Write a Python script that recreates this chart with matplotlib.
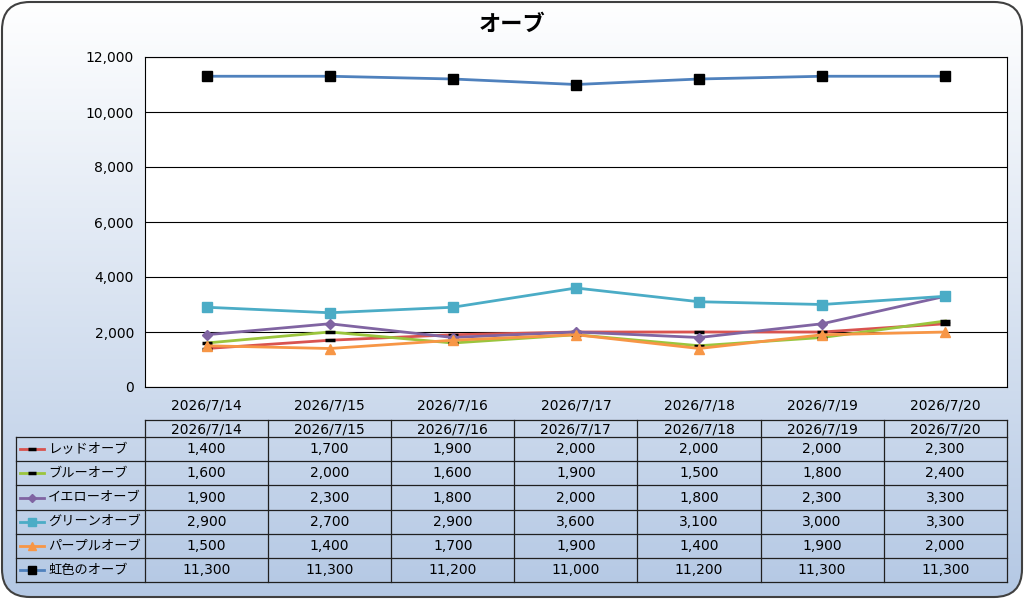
import matplotlib.pyplot as plt
import numpy as np
from matplotlib.patches import FancyBboxPatch
from matplotlib.colors import LinearSegmentedColormap

plt.rcParams['font.family'] = ['DejaVu Sans', 'Noto Sans CJK JP']

dates = ["2026/7/14", "2026/7/15", "2026/7/16", "2026/7/17", "2026/7/18", "2026/7/19", "2026/7/20"]
names = ["レッドオーブ", "ブルーオーブ", "イエローオーブ", "グリーンオーブ", "パープルオーブ", "虹色のオーブ"]
red = [1400, 1700, 1900, 2000, 2000, 2000, 2300]
blue = [1600, 2000, 1600, 1900, 1500, 1800, 2400]
yellow = [1900, 2300, 1800, 2000, 1800, 2300, 3300]
green = [2900, 2700, 2900, 3600, 3100, 3000, 3300]
purple = [1500, 1400, 1700, 1900, 1400, 1900, 2000]
rainbow = [11300, 11300, 11200, 11000, 11200, 11300, 11300]
series = [red, blue, yellow, green, purple, rainbow]
line_colors = ["#d9534f", "#9bc53d", "#8064a2", "#4bacc6", "#f79646", "#4f81bd"]
markers = ["_", "_", "D", "s", "^", "s"]
mfc = ["black", "black", "#8064a2", "#4bacc6", "#f79646", "black"]
msize = [7, 7, 5, 7, 7, 7]
jp = ['Noto Sans CJK JP', 'DejaVu Sans']

W, H = 1024, 599
fig = plt.figure(figsize=(W / 100, H / 100), dpi=100)

# background with gradient and rounded border
bg = fig.add_axes([0, 0, 1, 1])
bg.set_xlim(0, W)
bg.set_ylim(H, 0)
bg.axis('off')
grad = np.linspace(0, 1, 256).reshape(-1, 1)
cmap = LinearSegmentedColormap.from_list("g", ["#ffffff", "#b4c8e4"])
im = bg.imshow(grad, cmap=cmap, extent=[0, W, H, 0], aspect='auto', zorder=0)
box = FancyBboxPatch((2, 2), W - 4, H - 4, boxstyle="round,pad=0,rounding_size=28",
                     fc='none', ec='#404040', lw=1.5, zorder=2)
bg.add_patch(box)
im.set_clip_path(box)

bg.text(W / 2, 24, "オーブ", ha='center', va='center', fontsize=16, weight='bold', family=jp)

ax = fig.add_axes([145 / W, 1 - 387 / H, (1007 - 145) / W, (387 - 57) / H])
x = np.arange(len(dates))
for s, c, m, f, ms in zip(series, line_colors, markers, mfc, msize):
    ax.plot(x, s, color=c, lw=2, marker=m, mfc=f, mec=f, ms=ms, mew=2.5 if m == "_" else 1)
ax.set_xlim(-0.5, len(dates) - 0.5)
ax.set_ylim(0, 12000)
ax.set_yticks(range(0, 12001, 2000))
ax.set_yticklabels([f"{v:,}" for v in range(0, 12001, 2000)], fontsize=10)
ax.set_xticks(x)
ax.set_xticklabels(dates, fontsize=10)
ax.tick_params(length=0, pad=8)
ax.grid(axis='y', color='black', lw=0.8)
ax.set_axisbelow(True)
for sp in ax.spines.values():
    sp.set_linewidth(0.8)

# data table
x0, lx, cw = 16, 145, 123.1
top, hrow, rh = 420, 437, 24.2
ncol = len(dates)
right = lx + cw * ncol
bottom = hrow + rh * len(names)
lk = dict(color='#202020', lw=0.9, zorder=3)
bg.plot([lx, right], [top, top], **lk)
for i in range(len(names) + 1):
    y = hrow + rh * i
    bg.plot([x0, right], [y, y], **lk)
bg.plot([x0, x0], [hrow, bottom], **lk)
for j in range(ncol + 1):
    xx = lx + cw * j
    bg.plot([xx, xx], [top, bottom], **lk)
for j, d in enumerate(dates):
    bg.text(lx + cw * (j + 0.5), (top + hrow) / 2 + 1, d, ha='center', va='center', fontsize=10, zorder=4)
for i, (n, s) in enumerate(zip(names, series)):
    yc = hrow + rh * (i + 0.5)
    bg.plot([20, 44], [yc, yc], color=line_colors[i], lw=2, zorder=4)
    bg.plot([32], [yc], marker=markers[i], color=mfc[i], ms=msize[i] - 1,
            mew=2.5 if markers[i] == "_" else 1, zorder=5)
    bg.text(48, yc, n, ha='left', va='center', fontsize=9.5, zorder=4, family=jp)
    for j, v in enumerate(s):
        bg.text(lx + cw * (j + 0.5), yc, f"{v:,}", ha='center', va='center', fontsize=10, zorder=4)

fig.savefig("out.png", dpi=100)
